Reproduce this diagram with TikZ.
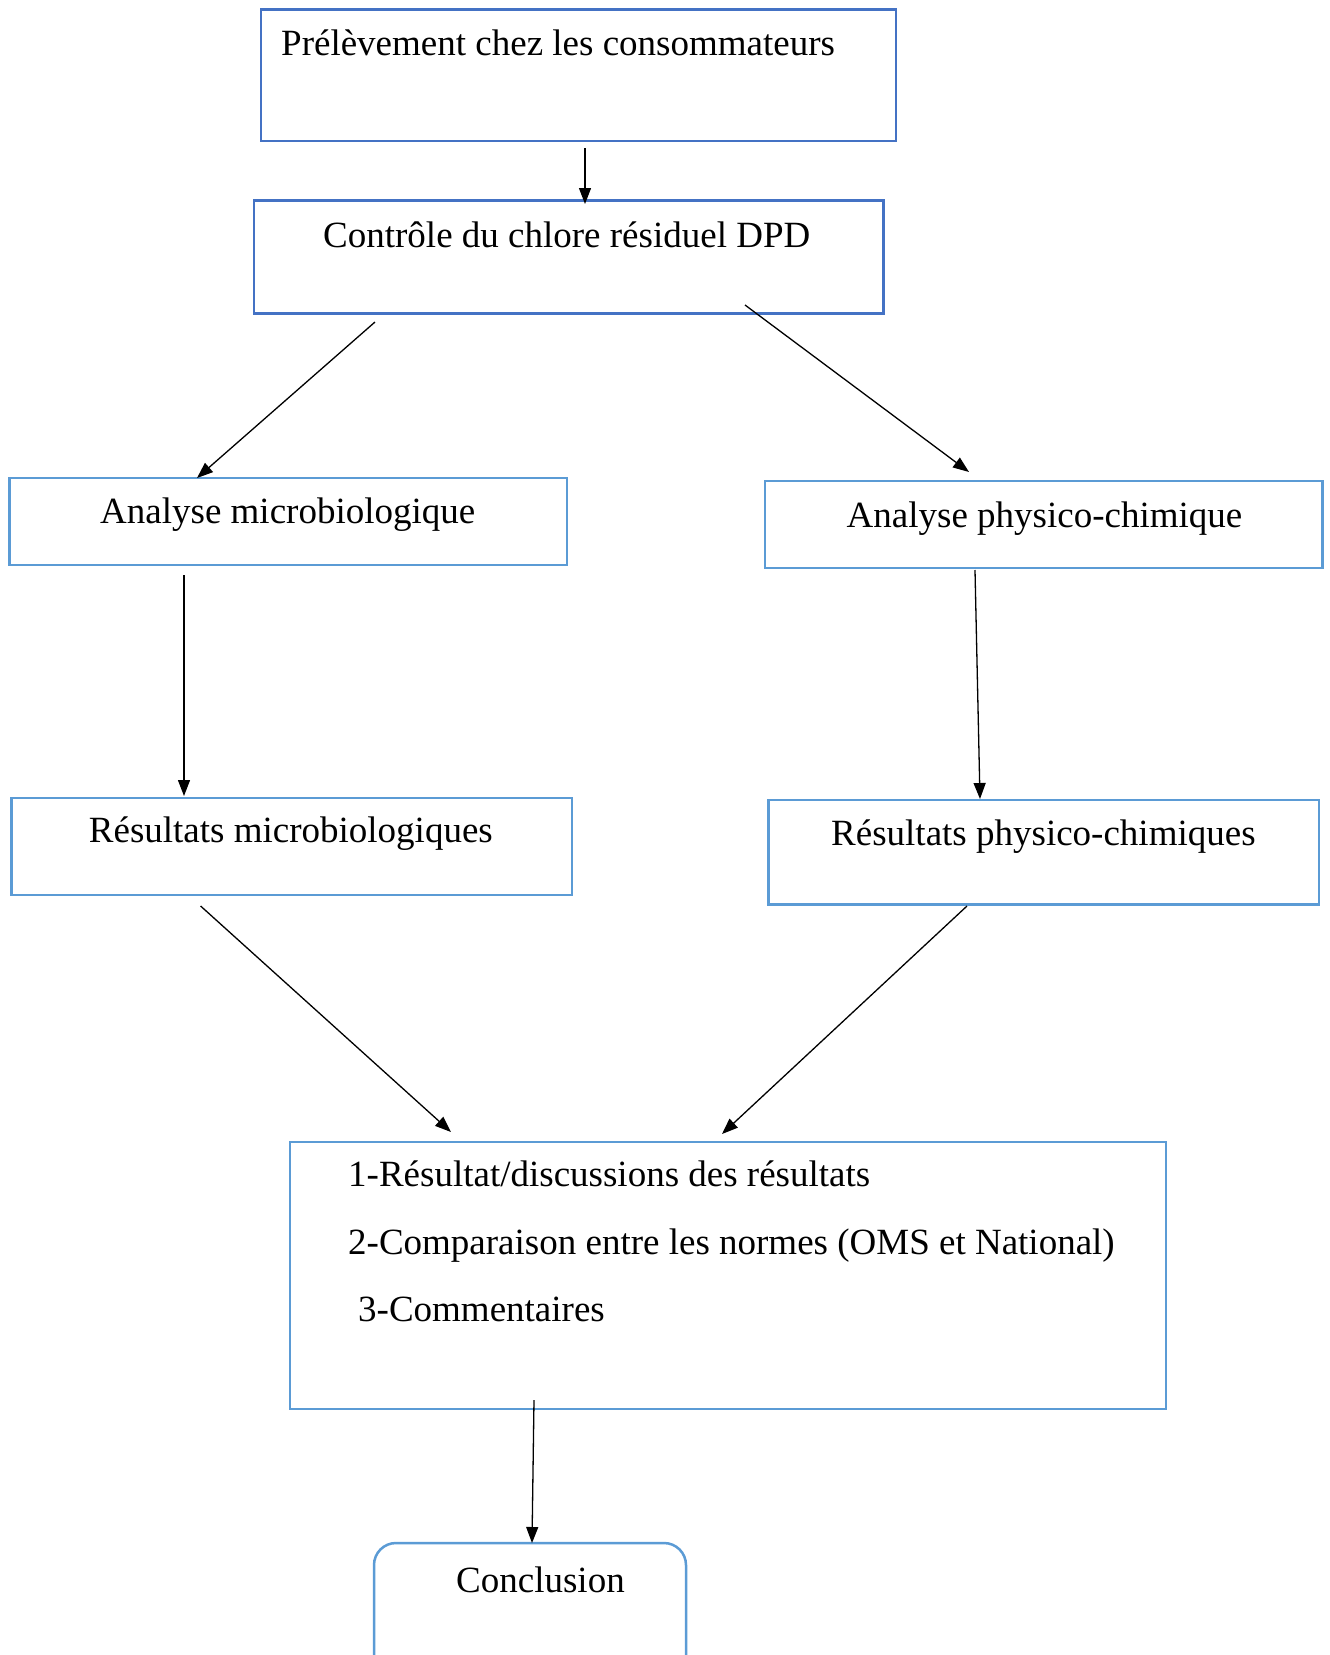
\documentclass[tikz,border=0pt]{standalone}
\usepackage{fontspec}
\setmainfont{Liberation Serif}
\usetikzlibrary{arrows.meta}
\definecolor{darkblue}{HTML}{4472C4}
\definecolor{lightblue}{HTML}{5B9BD5}
\tikzset{
  box/.style={draw=#1, line width=2.5pt, rectangle, inner sep=0pt},
  lbl/.style={anchor=base west, inner sep=0pt, font=\fontsize{37}{44}\selectfont},
  conn/.style={line width=1.3pt, -{Triangle[length=16pt,width=12pt]}}
}
\begin{document}
\begin{tikzpicture}[x=1pt,y=-1pt]
\useasboundingbox (0,0) rectangle (1330,1655);
\begin{scope}
\clip (0,0) rectangle (1330,1655);
% boxes
\node[box=darkblue, fit/.style={}, minimum width=635pt, minimum height=131.5pt] (b1) at (578.5,75.25) {};
\node[box=darkblue, minimum width=629.5pt, minimum height=113pt] (b2) at (568.75,257.05) {};
\node[box=lightblue, minimum width=557.5pt, minimum height=87pt] (b3) at (288.25,521.5) {};
\node[box=lightblue, minimum width=557.6pt, minimum height=87pt] (b4) at (1043.8,524.5) {};
\node[box=lightblue, minimum width=560.4pt, minimum height=97pt] (b5) at (291.8,846.5) {};
\node[box=lightblue, minimum width=550.5pt, minimum height=104.6pt] (b6) at (1043.75,852.3) {};
\node[box=lightblue, minimum width=876pt, minimum height=267pt] (b7) at (728,1275.5) {};
\node[box=lightblue, rounded corners=22pt, minimum width=312pt, minimum height=180pt] (b8) at (530,1633) {};
\end{scope}
% texts
\node[lbl] (t1) at (281,55) {Prélèvement chez les consommateurs};
\node[lbl] (t2) at (323,247) {Contrôle du chlore résiduel DPD};
\node[lbl] (t3) at (100,523) {Analyse microbiologique};
\node[lbl] (t4) at (846.5,527) {Analyse physico-chimique};
\node[lbl] (t5) at (88.7,842) {Résultats microbiologiques};
\node[lbl] (t6) at (831,845) {Résultats physico-chimiques};
\node[lbl] (t7a) at (348,1186.5) {1-Résultat/discussions des résultats};
\node[lbl] (t7b) at (348,1254) {2-Comparaison entre les normes (OMS et National)};
\node[lbl] (t7c) at (358,1321.5) {3-Commentaires};
\node[lbl] (t8) at (456,1592) {Conclusion};
% connector endpoints
\coordinate (a1s) at (585,148);  \coordinate (a1e) at (585,204);
\coordinate (a2s) at (375,322);  \coordinate (a2e) at (197,478);
\coordinate (a3s) at (745,305);  \coordinate (a3e) at (969,472);
\coordinate (a4s) at (184,575);  \coordinate (a4e) at (184,796);
\coordinate (a5s) at (975,570);  \coordinate (a5e) at (980,799);
\coordinate (a6s) at (200.6,906); \coordinate (a6e) at (451,1132);
\coordinate (a7s) at (967,906);  \coordinate (a7e) at (722,1134);
\coordinate (a8s) at (534,1400); \coordinate (a8e) at (532,1543);
\draw[conn] (a1s) -- (a1e);
\draw[conn] (a2s) -- (a2e);
\draw[conn] (a3s) -- (a3e);
\draw[conn] (a4s) -- (a4e);
\draw[conn] (a5s) -- (a5e);
\draw[conn] (a6s) -- (a6e);
\draw[conn] (a7s) -- (a7e);
\draw[conn] (a8s) -- (a8e);
\end{tikzpicture}
\end{document}
